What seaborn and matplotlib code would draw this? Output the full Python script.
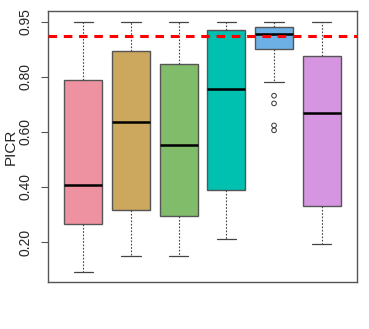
import numpy as np
import pandas as pd
import matplotlib
matplotlib.use("Agg")
import matplotlib.pyplot as plt
import seaborn as sns

# Five-number summaries per method (whisker low, Q1, median, Q3, whisker high)
groups = ["M1", "M2", "M3", "M4", "M5", "M6"]
whisk_lo = [0.09, 0.15, 0.15, 0.21, 0.783, 0.192]
q1 = [0.265, 0.315, 0.296, 0.389, 0.903, 0.331]
median = [0.407, 0.636, 0.553, 0.756, 0.957, 0.668]
q3 = [0.788, 0.896, 0.847, 0.971, 0.983, 0.876]
whisk_hi = [1.0, 1.0, 1.0, 1.0, 1.0, 1.0]
# outliers (group, value)
outlier_group = ["M5", "M5", "M5", "M5"]
outlier_value = [0.732, 0.704, 0.624, 0.606]
nominal = 0.95
ytick_pos = [0.2, 0.4, 0.6, 0.8, 1.0]
ytick_labels = ["0.20", "0.40", "0.60", "0.80", "0.95"]
colors = ["#EE91A0", "#CCA75E", "#80BC6A", "#00C0B0", "#6CB0E6", "#D595E0"]

rows = []
for g, a, b, c, d, e in zip(groups, whisk_lo, q1, median, q3, whisk_hi):
    for v in (a, b, c, d, e):
        rows.append({"method": g, "PICR": v})
df = pd.DataFrame(rows)
df_out = pd.DataFrame({"method": outlier_group, "PICR": outlier_value})

sns.set_theme(style="white")
plt.rcParams["font.family"] = ["Liberation Sans", "DejaVu Sans"]

fig = plt.figure(figsize=(3.69, 3.29), dpi=100)
ax = fig.add_axes([48 / 369, (329 - 282) / 329, (357 - 48) / 369, (282 - 11) / 329])

edge = "#555555"
sns.boxplot(
    data=df, x="method", y="PICR", hue="method", order=groups, hue_order=groups,
    palette=colors, legend=False, whis=(0, 100), showfliers=False, width=0.8,
    saturation=1, linecolor=edge, linewidth=1.0, ax=ax,
    whiskerprops=dict(linestyle=(0, (1.5, 1.5)), color="#444444", linewidth=0.8),
    capprops=dict(color="#444444", linewidth=0.9, linestyle="-"),
    medianprops=dict(color="black", linewidth=1.8),
    boxprops=dict(edgecolor=edge, linewidth=1.0),
)
sns.scatterplot(data=df_out, x="method", y="PICR", ax=ax, marker="o", s=11,
                facecolor="none", edgecolor="#333333", linewidth=0.7, zorder=5)

ax.axhline(nominal, color="red", linestyle=(0, (2.8, 2.2)), linewidth=2.2, zorder=6)

ax.set_xlim(-0.74, 5.74)
ax.set_ylim(0.0545, 1.04)
ax.set_yticks(ytick_pos)
ax.set_yticklabels(ytick_labels, rotation=90, va="center", fontsize=10)
ax.set_xticks([])
ax.set_xlabel("")
ax.set_ylabel("PICR", fontsize=11, va="center")
ax.yaxis.set_label_coords((11 - 48) / 309, 0.5)
ax.tick_params(axis="y", left=True, length=5, width=0.8, color="#555555", pad=6)
for s in ax.spines.values():
    s.set_color("#555555")
    s.set_linewidth(1.0)
    s.set_visible(True)

fig.savefig("out.png", dpi=100)
